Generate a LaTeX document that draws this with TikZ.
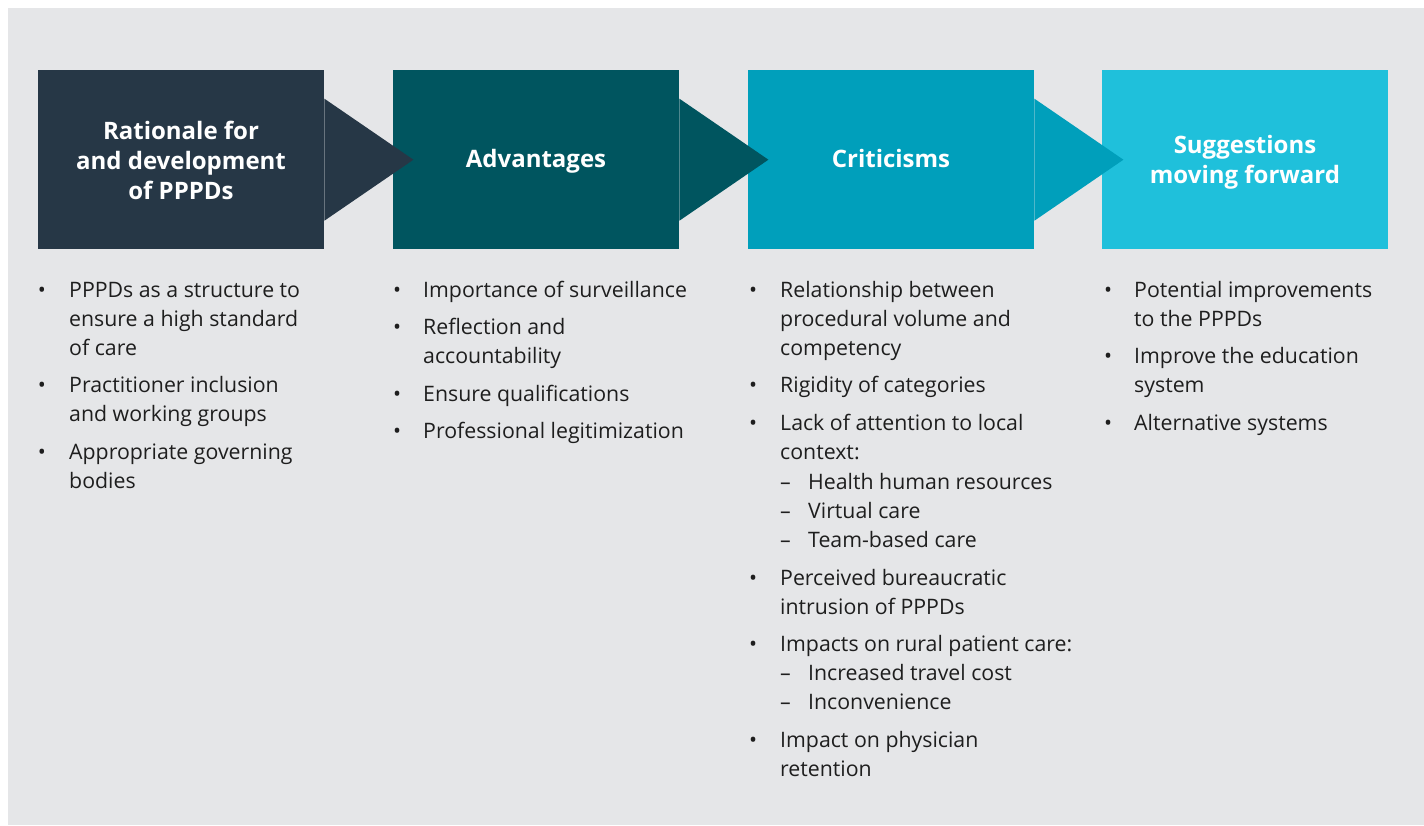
\documentclass[tikz,border=0pt]{standalone}
\usepackage{fontspec}
\setmainfont{Open Sans}
\definecolor{pagebg}{HTML}{E5E6E8}
\definecolor{stageA}{HTML}{263746}
\definecolor{stageB}{HTML}{00555F}
\definecolor{stageC}{HTML}{009FBB}
\definecolor{stageD}{HTML}{1FC0DB}
\definecolor{bodytext}{HTML}{1E1E1E}
% lines of one item; the node's baseline is that of the first line
\newcommand{\itemlines}[1]{\begin{tabular}[t]{@{}l@{}}#1\end{tabular}}
\newcommand{\headlines}[1]{\begin{tabular}[t]{@{}c@{}}#1\end{tabular}}
\begin{document}
\begin{tikzpicture}[x=1pt,y=-1pt,
  stage/.style={rectangle, anchor=north west, minimum width=286pt, minimum height=179pt,
    inner sep=0pt},
  heading/.style={anchor=base, inner sep=0pt, text=white,
    font=\fontsize{24}{30}\selectfont\bfseries},
  item/.style={anchor=base west, inner sep=0pt, text=bodytext,
    font=\fontsize{21.3}{29.2}\selectfont},
  dot/.style={anchor=base, inner sep=0pt, text=bodytext,
    font=\fontsize{21.3}{29.2}\selectfont},
  subdash/.style={anchor=base west, inner sep=0pt, text=bodytext,
    font=\fontsize{21.3}{29.2}\selectfont},
]
\useasboundingbox (0,0) rectangle (1424,825);
\fill[pagebg] (8,8) rectangle (1424,825);

% stage boxes
\node[stage, fill=stageA] (s1) at (38,70)   {};
\node[stage, fill=stageB] (s2) at (393,70)  {};
\node[stage, fill=stageC] (s3) at (748,70)  {};
\node[stage, fill=stageD] (s4) at (1102,70) {};

% arrow heads pointing into the next stage
\foreach \s/\c in {s1/stageA, s2/stageB, s3/stageC}{
  \fill[\c] ([yshift=-61pt]\s.east) -- ([xshift=89pt]\s.east) -- ([yshift=61pt]\s.east) -- cycle;
}

% stage headings
\node[heading] (h1) at (181,139)  {\headlines{Rationale for\\and development\\of PPPDs}};
\node[heading] (h2) at (536,167)  {Advantages};
\node[heading] (h3) at (891,167)  {Criticisms};
\node[heading] (h4) at (1245,153) {\headlines{Suggestions\\moving forward}};

% column 1
\node[dot]  (a1d) at (42,297)  {\textbullet};
\node[item] (a1)  at (69,297)  {\itemlines{PPPDs as a structure to\\ensure a high standard\\of care}};
\node[dot]  (a2d) at (42,392.5) {\textbullet};
\node[item] (a2)  at (69,392.5) {\itemlines{Practitioner inclusion\\and working groups}};
\node[dot]  (a3d) at (42,459)  {\textbullet};
\node[item] (a3)  at (69,459)  {\itemlines{Appropriate governing\\bodies}};

% column 2
\node[dot]  (b1d) at (397,297)   {\textbullet};
\node[item] (b1)  at (423,297)   {Importance of surveillance};
\node[dot]  (b2d) at (397,334.5) {\textbullet};
\node[item] (b2)  at (423,334.5) {\itemlines{Reflection and\\accountability}};
\node[dot]  (b3d) at (397,401)   {\textbullet};
\node[item] (b3)  at (423,401)   {Ensure qualifications};
\node[dot]  (b4d) at (397,438.5) {\textbullet};
\node[item] (b4)  at (423,438.5) {Professional legitimization};

% column 3
\node[dot]  (c1d) at (753,297)   {\textbullet};
\node[item] (c1)  at (780,297)   {\itemlines{Relationship between\\procedural volume and\\competency}};
\node[dot]  (c2d) at (753,392.5) {\textbullet};
\node[item] (c2)  at (780,392.5) {Rigidity of categories};
\node[dot]  (c3d) at (753,430)   {\textbullet};
\node[item] (c3)  at (780,430)   {\itemlines{Lack of attention to local\\context:}};
\node[subdash] (c3ad) at (780,489)  {\textendash};
\node[item] (c3a) at (808,489)   {Health human resources};
\node[subdash] (c3bd) at (780,518)  {\textendash};
\node[item] (c3b) at (808,518)   {Virtual care};
\node[subdash] (c3cd) at (780,547)  {\textendash};
\node[item] (c3c) at (808,547)   {Team-based care};
\node[dot]  (c4d) at (753,585)   {\textbullet};
\node[item] (c4)  at (780,585)   {\itemlines{Perceived bureaucratic\\intrusion of PPPDs}};
\node[dot]  (c5d) at (753,651)   {\textbullet};
\node[item] (c5)  at (780,651)   {Impacts on rural patient care:};
\node[subdash] (c5ad) at (780,680)  {\textendash};
\node[item] (c5a) at (808,680)   {Increased travel cost};
\node[subdash] (c5bd) at (780,709)  {\textendash};
\node[item] (c5b) at (808,709)   {Inconvenience};
\node[dot]  (c6d) at (753,747)   {\textbullet};
\node[item] (c6)  at (780,747)   {\itemlines{Impact on physician\\retention}};

% column 4
\node[dot]  (d1d) at (1108,297)   {\textbullet};
\node[item] (d1)  at (1134,297)   {\itemlines{Potential improvements\\to the PPPDs}};
\node[dot]  (d2d) at (1108,363.5) {\textbullet};
\node[item] (d2)  at (1134,363.5) {\itemlines{Improve the education\\system}};
\node[dot]  (d3d) at (1108,430)   {\textbullet};
\node[item] (d3)  at (1134,430)   {Alternative systems};
\end{tikzpicture}
\end{document}
